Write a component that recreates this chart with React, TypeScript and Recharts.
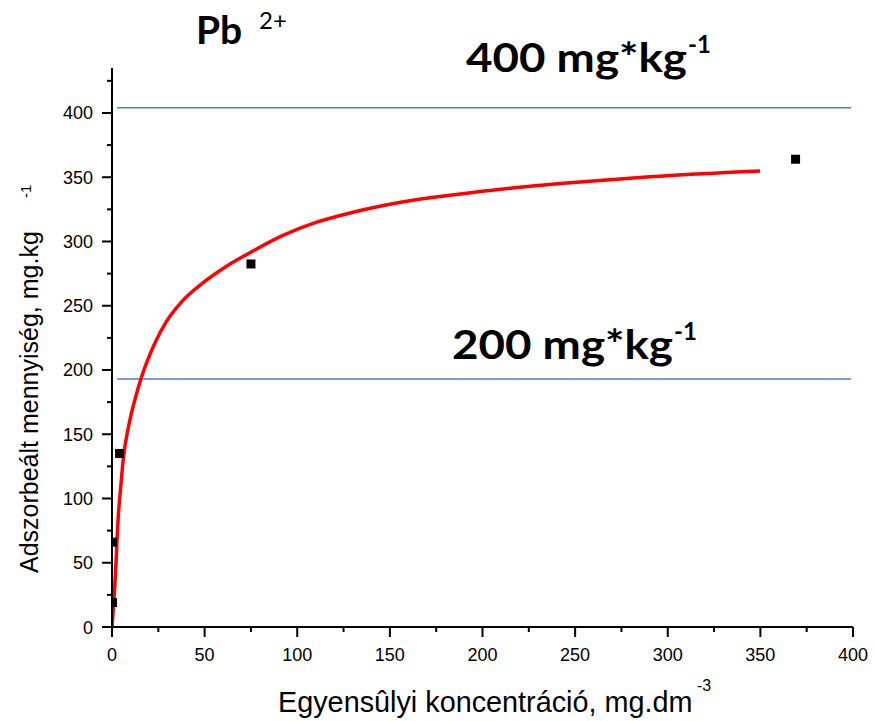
import React from 'react';
import { ComposedChart, Line, Scatter, XAxis, YAxis, ReferenceLine } from 'recharts';

const curveConc = [0, 1.6, 3.4, 4.9, 6.1, 8.8, 12.4, 15.6, 23.2, 29.5, 37.6, 48.4, 61, 75.4, 92, 110.5, 128, 146.5, 164, 182.5, 218.5, 254.4, 290.4, 349.8];
const curveQ = [0, 34, 86, 112, 131, 155, 177, 193, 221, 238, 253, 267, 280, 292, 304.5, 315, 322, 328, 332.5, 336, 342, 346.5, 350.4, 354.9];

const pointConc = [0.3, 0.2, 4.1, 75, 369];
const pointQ = [19, 66, 135, 282.5, 364];

const limitQ = [404, 193];
const limitFrom = 2.7;
const limitTo = 399;

const xTicks = [0, 25, 50, 75, 100, 125, 150, 175, 200, 225, 250, 275, 300, 325, 350, 375, 400];
const yTicks = [0, 25, 50, 75, 100, 125, 150, 175, 200, 225, 250, 275, 300, 325, 350, 375, 400, 425];

const curveData = curveConc.map((x, i) => ({ x, y: curveQ[i] }));
const pointData = pointConc.map((x, i) => ({ x, y: pointQ[i] }));

const W = 875;
const H = 721;
const PLOT_LEFT = 113;
const tickFont = '"Liberation Sans", Arial, sans-serif';
const boldFont = 'Lato, "Open Sans", sans-serif';

const XTick = (props: any) => {
  const { x, y, payload } = props;
  const major = payload.value % 50 === 0;
  if (!major) return <g />;
  return (
    <g>
      <path d={`M${x},${y}L${x},${y + 5}`} stroke="#000" strokeWidth={2} fill="none" />
      <text x={x} y={y + 29} textAnchor="middle" fontSize={18} fontFamily={tickFont} fill="#000" stroke="none">
        {payload.value}
      </text>
    </g>
  );
};

const YTick = (props: any) => {
  const { x, y, payload } = props;
  const major = payload.value % 50 === 0;
  if (!major) return <g />;
  return (
    <g>
      <path d={`M${x - 5},${y}L${x},${y}`} stroke="#000" strokeWidth={2} fill="none" />
      <text x={x - 14} y={y + 6.5} textAnchor="end" fontSize={18} fontFamily={tickFont} fill="#000" stroke="none">
        {payload.value}
      </text>
    </g>
  );
};

const SquareShape = (props: any) => {
  const { cx, cy } = props;
  const half = 4.5;
  const left = Math.max(cx - half, PLOT_LEFT);
  const right = cx + half;
  return <rect x={left} y={cy - half} width={right - left} height={half * 2} fill="#000" />;
};

export default function App() {
  return (
    <div style={{ position: 'absolute', left: 0, top: 0, width: W, height: H, background: '#fff' }}>
      <ComposedChart width={W} height={H} margin={{ top: 68, right: 22, bottom: 0, left: 0 }}>
        <XAxis
          dataKey="x"
          type="number"
          domain={[0, 400]}
          ticks={xTicks}
          interval={0}
          height={94}
          tickSize={5}
          tickMargin={0}
          tick={<XTick />}
          tickLine={{ stroke: '#000', strokeWidth: 2 }}
          axisLine={{ stroke: '#000', strokeWidth: 2 }}
          allowDataOverflow
        />
        <YAxis
          dataKey="y"
          type="number"
          domain={[0, 435]}
          ticks={yTicks}
          interval={0}
          width={112}
          tickSize={5}
          tickMargin={0}
          tick={<YTick />}
          tickLine={{ stroke: '#000', strokeWidth: 2 }}
          axisLine={{ stroke: '#000', strokeWidth: 2 }}
          allowDataOverflow
        />
        {limitQ.map((q) => (
          <ReferenceLine
            key={q}
            segment={[{ x: limitFrom, y: q }, { x: limitTo, y: q }]}
            stroke="#4f81bd"
            strokeWidth={1.5}
          />
        ))}
        <Scatter data={pointData} dataKey="y" shape={<SquareShape />} isAnimationActive={false} />
        <Line
          data={curveData}
          dataKey="y"
          type="monotone"
          stroke="#ff0000"
          strokeWidth={3.5}
          dot={false}
          activeDot={false}
          isAnimationActive={false}
        />
      </ComposedChart>
      <svg width={W} height={H} style={{ position: 'absolute', left: 0, top: 0, pointerEvents: 'none' }}>
        <text x={196} y={44} fontFamily={boldFont} fontWeight={700} fontSize={39} fill="#000">Pb</text>
        <text x={259} y={29} fontFamily={boldFont} fontWeight={400} fontSize={24} fill="#000">2+</text>

        <text x={466} y={72} fontFamily={boldFont} fontWeight={700} fontSize={41} fill="#000" textLength={221} lengthAdjust="spacingAndGlyphs">400 mg*kg</text>
        <text x={688} y={53} fontFamily={boldFont} fontWeight={700} fontSize={24} fill="#000">-1</text>

        <text x={452} y={359} fontFamily={boldFont} fontWeight={700} fontSize={41} fill="#000" textLength={221} lengthAdjust="spacingAndGlyphs">200 mg*kg</text>
        <text x={674} y={340} fontFamily={boldFont} fontWeight={700} fontSize={24} fill="#000">-1</text>

        <text x={278} y={712} fontFamily={tickFont} fontSize={28.8} fill="#000">Egyensûlyi koncentráció, mg.dm</text>
        <text x={697} y={691} fontFamily={tickFont} fontSize={16} fill="#000">-3</text>

        <text x={38} y={573} transform="rotate(-90, 38, 573)" fontFamily={tickFont} fontSize={25} fill="#000">Adszorbeált mennyiség, mg.kg</text>
        <text x={31} y={198} transform="rotate(-90, 31, 198)" fontFamily={tickFont} fontSize={15} fill="#000">-1</text>
      </svg>
    </div>
  );
}
